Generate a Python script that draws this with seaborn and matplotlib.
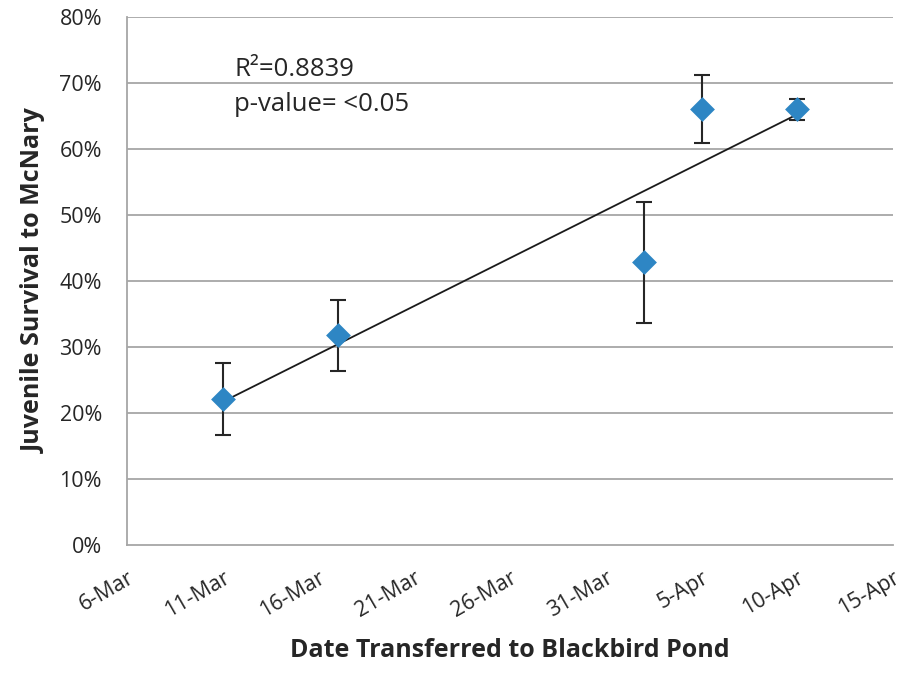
import numpy as np
import pandas as pd
import matplotlib
matplotlib.use("Agg")
import matplotlib.pyplot as plt
import seaborn as sns

# Data (days after 6-Mar)
dates = ["11-Mar", "17-Mar", "2-Apr", "5-Apr", "10-Apr"]
day_offset = [5, 11, 27, 30, 35]
survival = [22.1, 31.8, 42.9, 66.1, 66.1]
err_upper = [27.6, 37.1, 52.0, 71.2, 67.6]
err_lower = [16.7, 26.4, 33.6, 60.9, 64.4]
tick_days = [0, 5, 10, 15, 20, 25, 30, 35, 40]
tick_labels = ["6-Mar", "11-Mar", "16-Mar", "21-Mar", "26-Mar", "31-Mar", "5-Apr", "10-Apr", "15-Apr"]
y_ticks = [0, 10, 20, 30, 40, 50, 60, 70, 80]

df = pd.DataFrame({"day": day_offset, "surv": survival})

sns.set_style("white")
plt.rcParams["font.family"] = ["Open Sans", "DejaVu Sans"]

fig = plt.figure(figsize=(9.15, 6.73), dpi=100)
ax = fig.add_axes([0.1388, 0.1902, 0.8372, 0.7845])

for y in y_ticks[1:]:
    ax.axhline(y, color="#A6A6A6", lw=1.3, zorder=0)

yerr = [np.array(survival) - np.array(err_lower), np.array(err_upper) - np.array(survival)]
ax.errorbar(day_offset, survival, yerr=yerr, fmt="none", ecolor="#262626",
            elinewidth=1.5, capsize=5.5, capthick=1.5, zorder=2)

sns.regplot(data=df, x="day", y="surv", scatter=False, ci=None, ax=ax,
            color="#1a1a1a", line_kws={"lw": 1.3, "zorder": 3}, truncate=True)

sns.scatterplot(data=df, x="day", y="surv", marker="D", s=160, color="#2E86C4",
                edgecolor="#2E86C4", linewidth=0, ax=ax, zorder=4)

ax.set_xlim(0, 40)
ax.set_ylim(0, 80)
ax.set_xticks(tick_days)
ax.set_xticklabels(tick_labels, rotation=30, ha="right", rotation_mode="anchor", fontsize=15.5, color="#262626")
ax.set_yticks(y_ticks)
ax.set_yticklabels([f"{v}%" for v in y_ticks], fontsize=15.5, color="#262626")
ax.tick_params(axis="both", direction="out", length=6, width=1.3, color="#A6A6A6", pad=12)
ax.tick_params(axis="x", pad=10)

for s in ["top", "right"]:
    ax.spines[s].set_visible(False)
for s in ["left", "bottom"]:
    ax.spines[s].set_color("#A6A6A6")
    ax.spines[s].set_linewidth(1.3)

ax.set_xlabel("Date Transferred to Blackbird Pond", fontsize=18, fontweight="bold", color="#262626", labelpad=12)
ax.set_ylabel("Juvenile Survival to McNary", fontsize=18, fontweight="bold", color="#262626", labelpad=9)

ax.text(5.6, 72.0, "R²=0.8839", fontsize=18.5, color="#262626", va="center")
ax.text(5.6, 66.8, "p-value= <0.05", fontsize=18.5, color="#262626", va="center")

fig.savefig("out.png", dpi=100)
